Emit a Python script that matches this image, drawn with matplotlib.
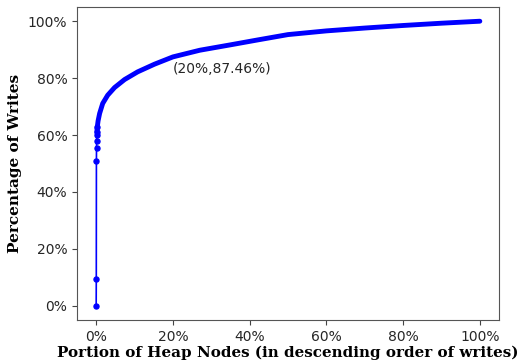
import matplotlib
matplotlib.use("Agg")
import matplotlib.pyplot as plt
from matplotlib.ticker import PercentFormatter

# Cumulative share of writes vs. portion of heap nodes (both in percent)
node_pct = [0.0, 0.03, 0.06, 0.09, 0.12, 0.15, 0.18, 0.3, 0.5, 0.9, 1.7, 3.0,
            4.8, 7.4, 10.8, 15.2, 20.0, 27.0, 35.0, 42.0, 50.0, 60.0, 70.0,
            80.0, 90.0, 100.0]
write_pct = [0.0, 9.4, 50.8, 55.5, 58.0, 60.0, 61.2, 63.0, 65.0, 67.6, 71.1,
             74.0, 76.7, 79.5, 82.2, 84.9, 87.46, 89.8, 91.7, 93.4, 95.3,
             96.6, 97.6, 98.5, 99.3, 100.0]
note_x, note_y = 20.0, 87.46
note_text = "(20%,87.46%)"

fig = plt.figure(figsize=(5.22, 3.62), dpi=100)
ax = fig.add_axes([0.1475, 0.116, 0.8085, 0.8647])

# sparse head drawn with markers; dense tail drawn as a thick stroke
ax.plot(node_pct[:8], write_pct[:8], color="#0000ff", lw=1.2, marker="o",
        ms=3.6)
ax.plot(node_pct[6:], write_pct[6:], color="#0000ff", lw=3.5,
        solid_capstyle="round", solid_joinstyle="round")

ax.text(note_x, note_y - 4.3, note_text, fontsize=10, color="#262626",
        ha="left", va="center")

ax.set_xlim(-5, 105)
ax.set_ylim(-5, 105)
ax.set_xticks([0, 20, 40, 60, 80, 100])
ax.set_yticks([0, 20, 40, 60, 80, 100])
ax.xaxis.set_major_formatter(PercentFormatter(decimals=0))
ax.yaxis.set_major_formatter(PercentFormatter(decimals=0))
ax.tick_params(labelsize=10, labelcolor="#262626", color="#444444")
for s in ax.spines.values():
    s.set_color("#555555")

ax.set_xlabel("Portion of Heap Nodes (in descending order of writes)",
              family="DejaVu Serif", fontweight="bold", fontsize=10.9,
              labelpad=1)
ax.set_ylabel("Percentage of Writes", family="DejaVu Serif",
              fontweight="bold", fontsize=11)

fig.savefig("out.png", dpi=100)
